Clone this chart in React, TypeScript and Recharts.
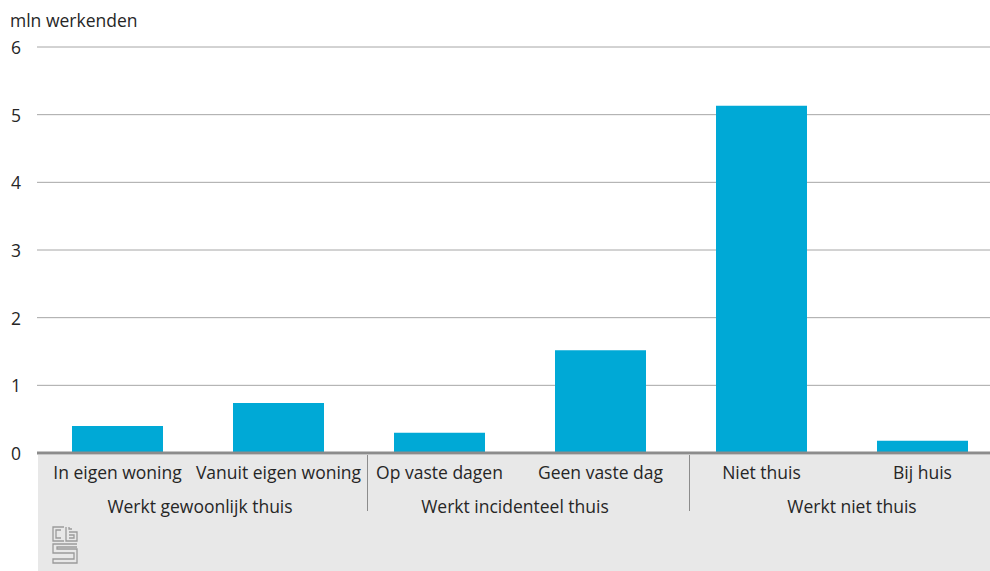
import React from 'react';
import { BarChart, Bar, XAxis, YAxis, CartesianGrid } from 'recharts';

const categories = ['In eigen woning', 'Vanuit eigen woning', 'Op vaste dagen', 'Geen vaste dag', 'Niet thuis', 'Bij huis'];
const groups = ['Werkt gewoonlijk thuis', 'Werkt incidenteel thuis', 'Werkt niet thuis'];
const values = [0.4, 0.74, 0.3, 1.52, 5.13, 0.18];
const yTicks = [0, 1, 2, 3, 4, 5, 6];

const data = categories.map((name, i) => ({ name, value: values[i] }));

const FONT = '"Open Sans", "Noto Sans", sans-serif';
const FS = 17.5;
const TEXT = '#262626';
const PLOT_BOTTOM = 453;
const BAND = 161;
// small nudges for the group labels, as in the original
const groupNudge = [2, -5, 10];

const CategoryTick = (props: any) => {
  const { x, payload, index } = props;
  const groupIdx = Math.floor(index / 2);
  const first = index % 2 === 0;
  return (
    <g>
      <text x={x} y={PLOT_BOTTOM + 26} textAnchor="middle" fontSize={FS} fill={TEXT} fontFamily={FONT}>
        {payload.value}
      </text>
      {first && (
        <text x={x + BAND / 2 + groupNudge[groupIdx]} y={PLOT_BOTTOM + 60} textAnchor="middle" fontSize={FS} fill={TEXT} fontFamily={FONT}>
          {groups[groupIdx]}
        </text>
      )}
      {first && index > 0 && (
        <line x1={x - 72} x2={x - 72} y1={PLOT_BOTTOM + 2} y2={PLOT_BOTTOM + 58} stroke="#8c8c8c" strokeWidth={1} />
      )}
    </g>
  );
};

const ValueTick = (props: any) => {
  const { y, payload } = props;
  return (
    <text x={16} y={y + 7} textAnchor="middle" fontSize={FS} fill={TEXT} fontFamily={FONT}>
      {payload.value}
    </text>
  );
};

const Logo = () => (
  <svg width={30} height={42} style={{ position: 'absolute', left: 50, top: 525 }}>
    <g fill="none" stroke="#9a9a9a" strokeWidth={1.3}>
      <path d="M14 2 H3 V16 H14 M11 5 H6 V13 H11" />
      <path d="M16 2 V16 H27 V7 H19 M19 2 V4 H22 M19 10 H24 V13 H19" />
      <path d="M27 19 H3 V28 H24 V34 H3 V38 H27 V24 H7 V22 H27" />
    </g>
  </svg>
);

const App: React.FC = () => {
  return (
    <div style={{ position: 'absolute', left: 0, top: 0, width: 990, height: 571, overflow: 'hidden', background: '#fff', fontFamily: FONT }}>
      <div style={{ position: 'absolute', left: 38, top: 455, width: 952, height: 116, background: '#e8e8e8' }} />
      <Logo />
      <div style={{ position: 'absolute', left: 10, top: 8, fontSize: FS, color: TEXT, lineHeight: '24px' }}>mln werkenden</div>
      <div style={{ position: 'absolute', left: 0, top: 0 }}>
        <BarChart width={1010} height={571} data={data} margin={{ top: 47, right: 7, left: 0, bottom: 0 }}>
          <CartesianGrid vertical={false} stroke="#a6a6a6" strokeWidth={1} />
          <XAxis
            dataKey="name"
            height={118}
            interval={0}
            tickLine={false}
            axisLine={{ stroke: '#8c8c8c', strokeWidth: 3 }}
            tick={<CategoryTick />}
          />
          <YAxis
            width={37}
            domain={[0, 6]}
            ticks={yTicks}
            axisLine={false}
            tickLine={false}
            tick={<ValueTick />}
          />
          <Bar dataKey="value" fill="#00a9d6" barSize={91} isAnimationActive={false} />
        </BarChart>
      </div>
    </div>
  );
};

export default App;
